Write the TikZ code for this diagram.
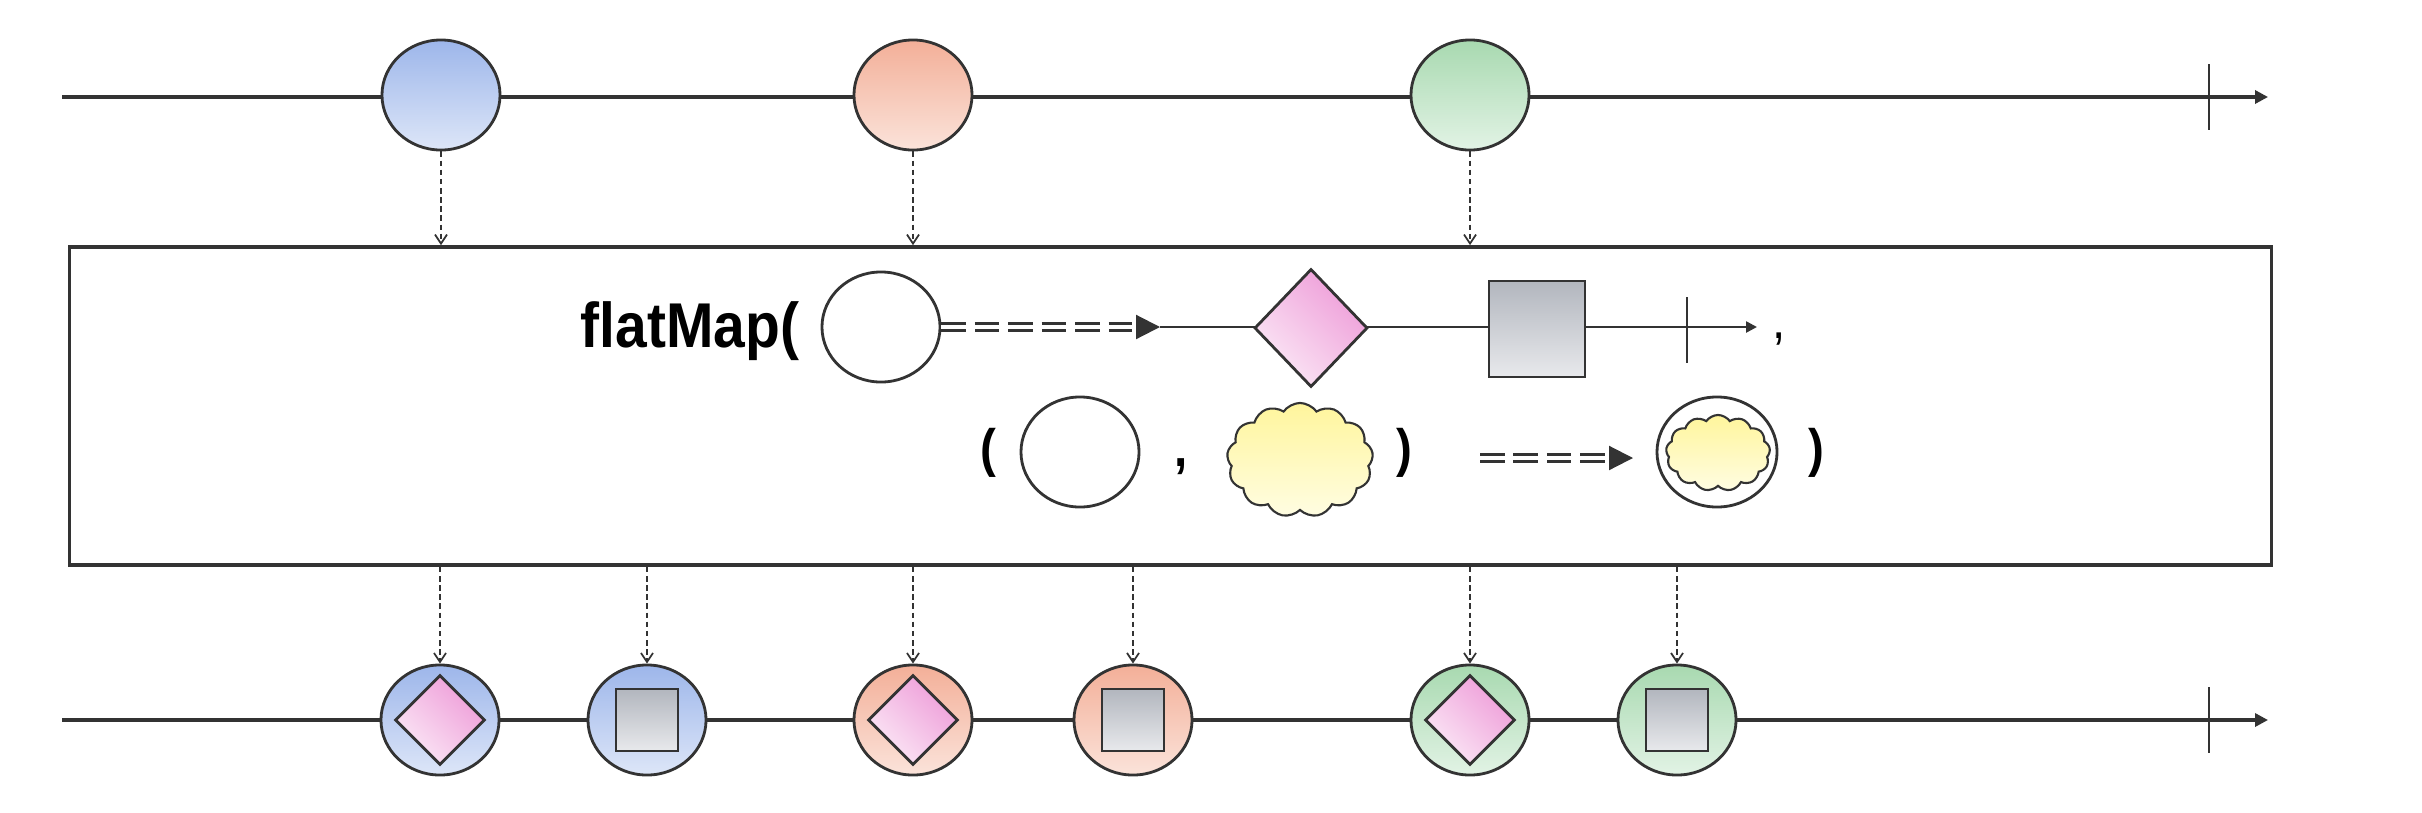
\documentclass[tikz,border=0pt]{standalone}
\usepackage{fontspec}
\newfontfamily\mapfont[FakeStretch=0.9]{Liberation Sans}
\usetikzlibrary{arrows.meta,shapes.geometric,shapes.symbols}
\definecolor{ink}{HTML}{333333}
\definecolor{blueT}{HTML}{9DB6EA}
\definecolor{blueB}{HTML}{DDE6F8}
\definecolor{redT}{HTML}{F3AF98}
\definecolor{redB}{HTML}{FBE3DA}
\definecolor{greenT}{HTML}{A8D9B0}
\definecolor{greenB}{HTML}{E2F3E5}
\definecolor{pinkD}{HTML}{EE9CD8}
\definecolor{pinkL}{HTML}{FBE8F6}
\definecolor{grayT}{HTML}{B2B6BE}
\definecolor{grayB}{HTML}{E8E9EC}
\definecolor{puffT}{HTML}{FFF59C}
\definecolor{puffB}{HTML}{FFFDE2}

\tikzset{
  timeline/.style={draw=ink, line width=1.1pt, -{Triangle[length=0.13cm,width=0.13cm]}},
  miniline/.style={draw=ink, line width=0.7pt, -{Triangle[length=0.11cm,width=0.11cm]}},
  tick/.style={draw=ink, line width=0.7pt},
  marble/.style={ellipse, draw=ink, line width=0.8pt, minimum width=1.18cm, minimum height=1.1cm, inner sep=0pt},
  bluemarble/.style={top color=blueT, bottom color=blueB},
  redmarble/.style={top color=redT, bottom color=redB},
  greenmarble/.style={top color=greenT, bottom color=greenB},
  gem/.style={diamond, draw=ink, line width=0.8pt, top color=pinkD, bottom color=pinkL, shading angle=-45, inner sep=0pt, minimum width=0.9cm, minimum height=0.9cm},
  box/.style={rectangle, draw=ink, line width=0.8pt, top color=grayT, bottom color=grayB, inner sep=0pt, minimum size=0.62cm},
  puff/.style={cloud, cloud puffs=13, cloud puff arc=110, draw=ink, line width=0.6pt, top color=puffT, bottom color=puffB, inner sep=0pt},
  opbox/.style={rectangle, draw=ink, line width=1pt, fill=white, minimum width=22.01cm, minimum height=3.18cm},
  feed/.style={draw=ink, line width=0.5pt, dash pattern=on 1.6pt off 1pt, -{Straight Barb[length=0.09cm,width=0.12cm]}},
  dbl/.style={draw=ink, line width=0.6pt, double=white, double distance=1.4pt, dash pattern=on 7pt off 2.5pt},
  head/.style={draw=ink, line width=0.6pt, -{Triangle[length=0.24cm,width=0.24cm]}},
  opname/.style={font=\mapfont\bfseries\fontsize{18pt}{18pt}\selectfont, inner sep=0pt, anchor=base west},
  paren/.style={font=\mapfont\bfseries\fontsize{15pt}{15pt}\selectfont, inner sep=0pt, anchor=base}
}

\begin{document}
\begin{tikzpicture}[x=0.01cm, y=-0.01cm]
\useasboundingbox (0,0) rectangle (2422,812);

\coordinate (in0) at (62,97);
\coordinate (in1) at (2268,97);
\coordinate (out0) at (62,720);
\coordinate (out1) at (2268,720);
\draw[timeline] (in0) -- (in1);
\draw[timeline] (out0) -- (out1);
\draw[tick] (2209,64) -- (2209,130);
\draw[tick] (2209,687) -- (2209,753);

\node[marble, bluemarble] (a) at (441,95) {};
\node[marble, redmarble] (b) at (913,95) {};
\node[marble, greenmarble] (c) at (1470,95) {};

\node[opbox] (op) at (1170.5,406) {};

\path (a) edge[feed] (a |- op.north)
    (b) edge[feed] (b |- op.north)
    (c) edge[feed] (c |- op.north);

% inside the operator box
\node[opname] (fm) at (580,347) {flatMap(};
\node[marble, fill=white] (src) at (881,327) {};
\coordinate (tipA0) at (1136,327);
\coordinate (tipA) at (1160,327);
\coordinate (endA) at (1757,327);
\draw[dbl] (src.east) -- ([xshift=-0.04cm]tipA0);
\draw[head] (tipA0) -- (tipA);
\draw[miniline] (tipA) -- (endA);
\node[gem, minimum width=1.13cm, minimum height=1.18cm] (g) at (1311,328) {};
\node[box, minimum size=0.96cm] (s) at (1537,329) {};
\draw[tick] (1687,297) -- (1687,363);
\node[font=\mapfont\fontsize{15pt}{15pt}\selectfont, inner sep=0pt, anchor=base] (cA) at (1779,338) {,};

\node[paren] (lp) at (988,466) {(};
\node[marble, fill=white] (x) at (1080,452) {};
\node[paren] (cB) at (1181,466) {,};
\node[puff, minimum width=1.46cm, minimum height=1.14cm] (y) at (1300,460) {};
\node[paren] (rp) at (1404,466) {)};
\coordinate (dB) at (1480,458);
\coordinate (tipB0) at (1609,458);
\coordinate (tipB) at (1633,458);
\draw[dbl] (dB) -- ([xshift=-0.04cm]tipB0);
\draw[head] (tipB0) -- (tipB);
\node[marble, fill=white, minimum width=1.2cm] (z) at (1717,452) {};
\node[puff, minimum width=1.04cm, minimum height=0.76cm] (zy) at (1718,453) {};
\node[paren] (rp2) at (1816,466) {)};

% output stream
\node[marble, bluemarble] (a1) at (440,720) {};
\node[gem] (a1g) at (a1) {};
\node[marble, bluemarble] (a2) at (647,720) {};
\node[box] (a2s) at (a2) {};
\node[marble, redmarble] (b1) at (913,720) {};
\node[gem] (b1g) at (b1) {};
\node[marble, redmarble] (b2) at (1133,720) {};
\node[box] (b2s) at (b2) {};
\node[marble, greenmarble] (c1) at (1470,720) {};
\node[gem] (c1g) at (c1) {};
\node[marble, greenmarble] (c2) at (1677,720) {};
\node[box] (c2s) at (c2) {};

\path (op.south -| a1) edge[feed] (a1)
    (op.south -| a2) edge[feed] (a2)
    (op.south -| b1) edge[feed] (b1)
    (op.south -| b2) edge[feed] (b2)
    (op.south -| c1) edge[feed] (c1)
    (op.south -| c2) edge[feed] (c2);
\end{tikzpicture}
\end{document}
